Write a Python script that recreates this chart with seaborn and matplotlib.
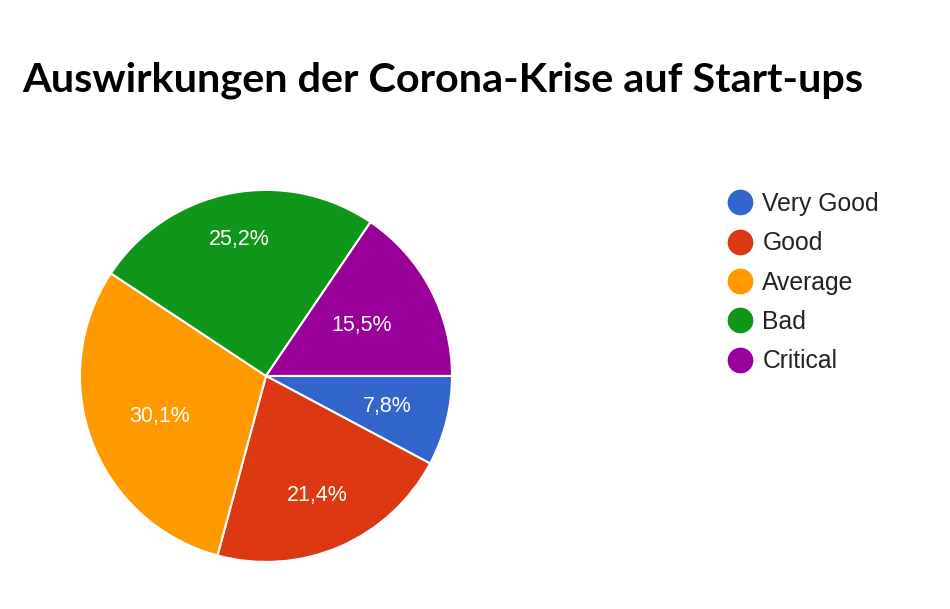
import matplotlib
matplotlib.use("Agg")
import numpy as np
import matplotlib.pyplot as plt
from matplotlib.lines import Line2D
import seaborn as sns

categories = ["Very Good", "Good", "Average", "Bad", "Critical"]
shares = [7.8, 21.4, 30.1, 25.2, 15.5]
colors = ["#3366CC", "#DC3912", "#FF9900", "#109618", "#990099"]
title = "Auswirkungen der Corona-Krise auf Start-ups"

# how far from the center each percentage label sits (fraction of radius)
label_dist = [0.67, 0.70, 0.61, 0.75, 0.58]

sns.set_theme(style="white")
plt.rcParams["font.family"] = ["Liberation Sans", "DejaVu Sans"]
palette = sns.color_palette(colors)

fig = plt.figure(figsize=(9.5, 6.09), dpi=100)
fig.patch.set_facecolor("white")

# pie sits left, center roughly at (266, 376) px
ax = fig.add_axes([0.0842, 0.0772, 0.3916, 0.611])
wedges, texts, autotexts = ax.pie(
    shares,
    colors=palette,
    startangle=0,
    counterclock=False,
    radius=1,
    autopct=lambda p: f"{p:.1f}%".replace(".", ","),
    pctdistance=0.66,
    wedgeprops=dict(edgecolor="white", linewidth=1.5),
    textprops=dict(color="white", fontsize=15.5),
)
for w, t, d in zip(wedges, autotexts, label_dist):
    mid = np.deg2rad((w.theta1 + w.theta2) / 2)
    t.set_position((d * np.cos(mid), d * np.sin(mid)))
ax.set_xlim(-1, 1)
ax.set_ylim(-1, 1)
ax.set_aspect("equal")
ax.axis("off")

fig.text(0.023, 0.849, title, fontsize=29.8, fontweight="bold",
         family=["Lato", "DejaVu Sans"], color="black", va="baseline")

handles = [Line2D([0], [0], marker="o", linestyle="", markersize=17.5,
                  markerfacecolor=c, markeredgecolor=c) for c in colors]
fig.legend(handles, categories, loc="upper left",
           bbox_to_anchor=(0.7486, 0.713), frameon=False,
           fontsize=17.8, labelcolor="#222222", handletextpad=0.47,
           labelspacing=0.62, handlelength=0.9, borderpad=0.2)

fig.savefig("out.png", dpi=100)
